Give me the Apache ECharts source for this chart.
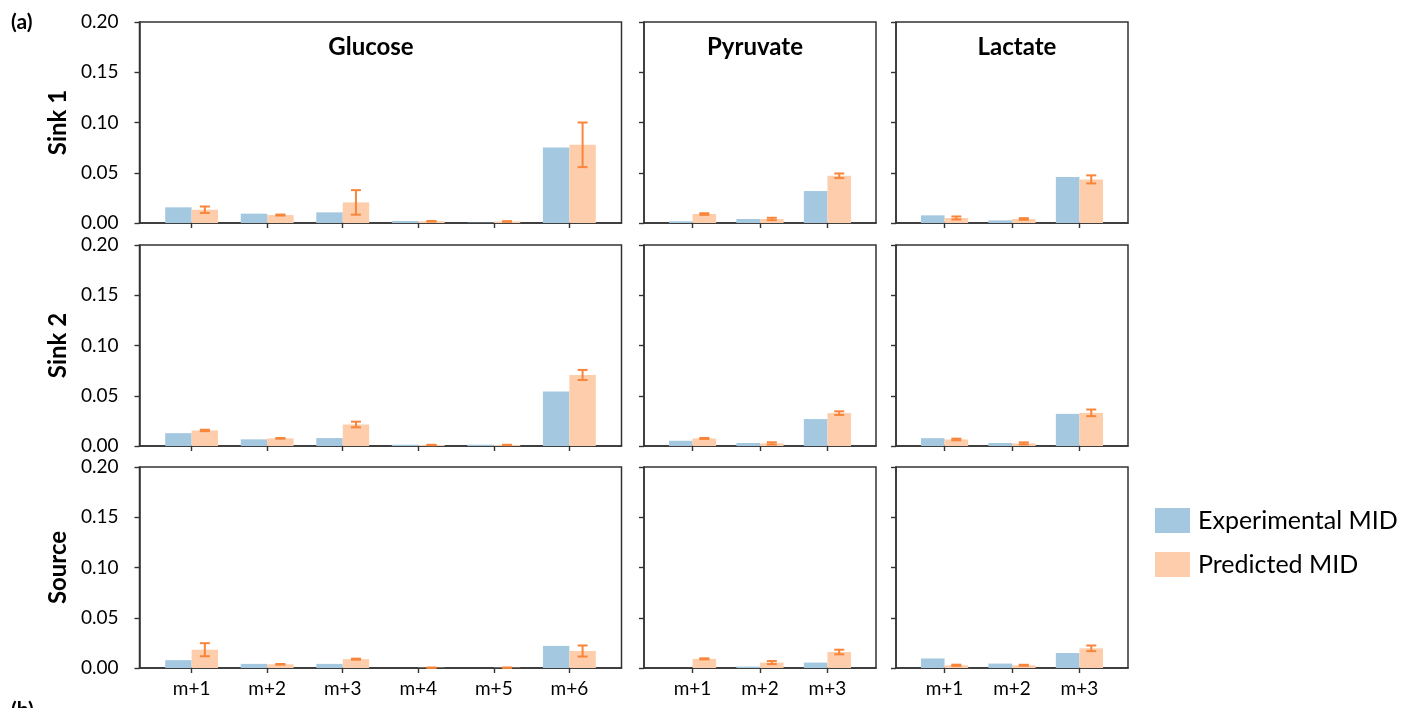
<!DOCTYPE html>
<html>
<head>
<meta charset="utf-8">
<title>MID fits</title>
<script src="https://cdn.jsdelivr.net/npm/echarts@6/dist/echarts.min.js"></script>
<style>
  html, body { margin: 0; padding: 0; background: #fff; }
  #chart { width: 1401px; height: 708px; }
</style>
</head>
<body>
<div id="chart"></div>
<script>
// tick labels
const glucoseLabels = ['m+1', 'm+2', 'm+3', 'm+4', 'm+5', 'm+6'];
const threeLabels = ['m+1', 'm+2', 'm+3'];
const metabolites = ['Glucose', 'Pyruvate', 'Lactate'];
const tissues = ['Sink 1', 'Sink 2', 'Source'];

// Sink 1
const sink1GlucoseExp = [0.0156, 0.0093, 0.0106, 0.0020, 0.0003, 0.0752];
const sink1GlucosePred = [0.0132, 0.0079, 0.0205, 0.0017, 0.0015, 0.0778];
const sink1GlucoseErr = [0.0032, 0.0005, 0.0122, 0.0003, 0.0003, 0.0222];
const sink1PyruvateExp = [0.0017, 0.0040, 0.0318];
const sink1PyruvatePred = [0.0089, 0.0040, 0.0470];
const sink1PyruvateErr = [0.0008, 0.0012, 0.0023];
const sink1LactateExp = [0.0076, 0.0026, 0.0457];
const sink1LactatePred = [0.0050, 0.0040, 0.0434];
const sink1LactateErr = [0.0015, 0.0008, 0.0040];
// Sink 2
const sink2GlucoseExp = [0.0128, 0.0066, 0.0079, 0.0013, 0.0013, 0.0543];
const sink2GlucosePred = [0.0155, 0.0076, 0.0214, 0.0010, 0.0010, 0.0707];
const sink2GlucoseErr = [0.0007, 0.0003, 0.0028, 0.0002, 0.0002, 0.0050];
const sink2PyruvateExp = [0.0052, 0.0030, 0.0268];
const sink2PyruvatePred = [0.0075, 0.0026, 0.0327];
const sink2PyruvateErr = [0.0005, 0.0011, 0.0018];
const sink2LactateExp = [0.0078, 0.0030, 0.0320];
const sink2LactatePred = [0.0065, 0.0026, 0.0330];
const sink2LactateErr = [0.0008, 0.0010, 0.0033];
// Source
const sourceGlucoseExp = [0.0078, 0.0041, 0.0041, 0, 0, 0.0220];
const sourceGlucosePred = [0.0182, 0.0037, 0.0088, 0.0003, 0.0003, 0.0169];
const sourceGlucoseErr = [0.0065, 0.0003, 0.0005, 0.0001, 0.0001, 0.0055];
const sourcePyruvateExp = [0, 0.0014, 0.0054];
const sourcePyruvatePred = [0.0091, 0.0054, 0.0159];
const sourcePyruvateErr = [0.0005, 0.0015, 0.0023];
const sourceLactateExp = [0.0095, 0.0044, 0.0149];
const sourceLactatePred = [0.0027, 0.0027, 0.0196];
const sourceLactateErr = [0.0006, 0.0005, 0.0028];

const panels = [
  [[sink1GlucoseExp, sink1GlucosePred, sink1GlucoseErr], [sink1PyruvateExp, sink1PyruvatePred, sink1PyruvateErr], [sink1LactateExp, sink1LactatePred, sink1LactateErr]],
  [[sink2GlucoseExp, sink2GlucosePred, sink2GlucoseErr], [sink2PyruvateExp, sink2PyruvatePred, sink2PyruvateErr], [sink2LactateExp, sink2LactatePred, sink2LactateErr]],
  [[sourceGlucoseExp, sourceGlucosePred, sourceGlucoseErr], [sourcePyruvateExp, sourcePyruvatePred, sourcePyruvateErr], [sourceLactateExp, sourceLactatePred, sourceLactateErr]]
];

// layout
const colLeft = [139.5, 644, 896];
const colWidth = [482, 232, 232];
const colRange = [[-0.69, 5.69], [-0.72, 2.72], [-0.72, 2.72]];
const rowTop = [22, 245, 467];
const rowHeight = 201;
const BAR_W = 0.35;
const EXP_COLOR = '#a5c8e1';
const PRED_COLOR = '#fdcdac';
const ERR_COLOR = '#f8853a';
const FONT = 'Lato';

const barItem = (offset, color) => (params, api) => {
  const x = api.value(0) + offset;
  const p0 = api.coord([x - BAR_W / 2, api.value(1)]);
  const p1 = api.coord([x + BAR_W / 2, 0]);
  return {
    type: 'rect',
    shape: { x: p0[0], y: p0[1], width: p1[0] - p0[0], height: p1[1] - p0[1] },
    style: { fill: color }
  };
};

const errItem = (params, api) => {
  const x = api.value(0) + BAR_W / 2;
  const c = api.value(1);
  const e = api.value(2);
  const top = api.coord([x, c + e]);
  const bot = api.coord([x, c - e]);
  const st = { stroke: ERR_COLOR, lineWidth: 2 };
  return {
    type: 'group',
    children: [
      { type: 'line', shape: { x1: top[0], y1: top[1], x2: bot[0], y2: bot[1] }, style: st },
      { type: 'line', shape: { x1: top[0] - 5, y1: top[1], x2: top[0] + 5, y2: top[1] }, style: st },
      { type: 'line', shape: { x1: bot[0] - 5, y1: bot[1], x2: bot[0] + 5, y2: bot[1] }, style: st }
    ]
  };
};

const grids = [];
const xAxes = [];
const yAxes = [];
const series = [];
const titles = [];

tissues.forEach((tissue, r) => {
  metabolites.forEach((met, c) => {
    const idx = grids.length;
    const labels = c === 0 ? glucoseLabels : threeLabels;
    const ticks = labels.map((l, i) => i);
    const [exp, pred, err] = panels[r][c];
    grids.push({
      left: colLeft[c], top: rowTop[r], width: colWidth[c], height: rowHeight,
      show: true, borderColor: '#333', borderWidth: 1.5, backgroundColor: 'transparent'
    });
    xAxes.push({
      gridIndex: idx, type: 'value', min: colRange[c][0], max: colRange[c][1],
      splitLine: { show: false },
      axisLine: { show: true, onZero: false, lineStyle: { color: '#333', width: 1.5 } },
      axisTick: { show: true, customValues: ticks, length: 5, lineStyle: { color: '#333', width: 1.4 } },
      axisLabel: {
        show: r === 2, customValues: ticks, margin: 11,
        formatter: v => labels[Math.round(v)],
        color: '#000', fontSize: 19, fontFamily: FONT
      }
    });
    yAxes.push({
      gridIndex: idx, type: 'value', min: 0, max: 0.2, interval: 0.05,
      splitLine: { show: false },
      axisLine: { show: true, onZero: false, lineStyle: { color: '#333', width: 1.5 } },
      axisTick: { show: true, length: 5, lineStyle: { color: '#333', width: 1.4 } },
      axisLabel: {
        show: c === 0, margin: 21, formatter: v => v.toFixed(2),
        color: '#000', fontSize: 19, fontFamily: FONT
      }
    });
    series.push({
      name: 'Experimental MID', type: 'custom', xAxisIndex: idx, yAxisIndex: idx,
      itemStyle: { color: EXP_COLOR },
      renderItem: barItem(-BAR_W / 2, EXP_COLOR),
      data: exp.map((v, i) => [i, v])
    });
    series.push({
      name: 'Predicted MID', type: 'custom', xAxisIndex: idx, yAxisIndex: idx,
      itemStyle: { color: PRED_COLOR },
      renderItem: barItem(BAR_W / 2, PRED_COLOR),
      data: pred.map((v, i) => [i, v])
    });
    series.push({
      name: 'Predicted MID error', type: 'custom', xAxisIndex: idx, yAxisIndex: idx,
      itemStyle: { color: ERR_COLOR }, z: 5,
      renderItem: errItem,
      data: pred.map((v, i) => [i, v, err[i]])
    });
  });
});

const titleCenters = [366, 750, 1012];
metabolites.forEach((met, c) => {
  titles.push({
    text: met, left: titleCenters[c], top: 30, textAlign: 'center',
    textStyle: { fontSize: 24, fontWeight: 'bold', color: '#000', fontFamily: FONT }
  });
});

// panel letters and row labels
titles.push({ text: '(a)', left: 6, top: 7, textStyle: { fontSize: 21, fontWeight: 'bold', color: '#000', fontFamily: FONT } });
titles.push({ text: '(b)', left: 6, top: 695, textStyle: { fontSize: 21, fontWeight: 'bold', color: '#000', fontFamily: FONT } });

const graphics = [];
tissues.forEach((t, r) => {
  graphics.push({
    type: 'text', x: 58, y: rowTop[r] + rowHeight / 2, rotation: Math.PI / 2,
    style: { text: t, fontSize: 24, fontWeight: 'bold', fontFamily: FONT, fill: '#000', align: 'center', verticalAlign: 'middle' }
  });
});

const chart = echarts.init(document.getElementById('chart'));
chart.setOption({
  animation: false,
  backgroundColor: '#fff',
  title: titles,
  grid: grids,
  xAxis: xAxes,
  yAxis: yAxes,
  legend: {
    data: ['Experimental MID', 'Predicted MID'],
    orient: 'vertical', left: 1150, top: 503,
    icon: 'rect', itemWidth: 35, itemHeight: 25, itemGap: 19,
    selectedMode: false,
    textStyle: { fontSize: 25, color: '#000', fontFamily: FONT, padding: [0, 0, 0, 3] }
  },
  graphic: graphics,
  series: series
});
</script>
</body>
</html>
